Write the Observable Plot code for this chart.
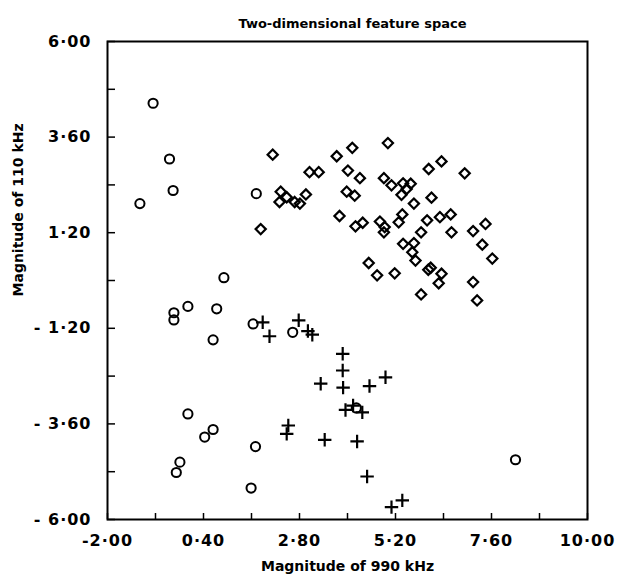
<!DOCTYPE html>
<html>
<head>
<meta charset="utf-8">
<script src="https://cdn.jsdelivr.net/npm/d3@7"></script>
<script src="https://cdn.jsdelivr.net/npm/@observablehq/plot@0.6"></script>
<style>
  html, body { margin: 0; padding: 0; background: #fff; }
  #chart { width: 617px; height: 581px; }
</style>
</head>
<body>
<div id="chart"></div>
<script>
const titleText = "Two-dimensional feature space";
const xTitle = "Magnitude of 990 kHz";
const yTitle = "Magnitude of 110 kHz";

const xMajor = [-2, 0.4, 2.8, 5.2, 7.6, 10];
const xTickLabels = ["-2·00", "0·40", "2·80", "5·20", "7·60", "10·00"];
const xMinor = [-0.8, 1.6, 4.0, 6.4, 8.8];
const yMajor = [-6, -3.6, -1.2, 1.2, 3.6, 6];
const yTickLabels = ["- 6·00", "- 3·60", "- 1·20", "1·20", "3·60", "6·00"];
const yMinor = [-4.8, -2.4, 0, 2.4, 4.8];

const circleX = [-0.86, -0.45, -0.36, -1.19, 1.72, 0.91, -0.34, -0.34, 0.01, 0.73, 0.64, 1.64, 2.63, 0.01, 0.43, 0.64, 1.70, -0.19, -0.28, 1.59, 8.20, 4.22];
const circleY = [4.45, 3.05, 2.26, 1.93, 2.18, 0.07, -0.81, -0.99, -0.65, -0.71, -1.49, -1.09, -1.30, -3.35, -3.93, -3.74, -4.17, -4.56, -4.82, -5.21, -4.50, -3.20];

const diamondX = [2.13, 1.83, 2.33, 2.30, 2.48, 2.68, 2.81, 2.96, 3.05, 3.28, 3.73, 3.80,
  4.12, 5.01, 4.01, 4.31, 4.91, 5.10, 5.39, 5.58, 5.48, 5.35, 6.03, 6.35, 6.93, 3.98, 4.18,
  5.66, 6.10, 4.20, 4.38, 4.81, 4.93, 4.91, 5.28, 5.37, 5.84, 5.99, 6.31, 6.58, 6.60, 7.14,
  7.45, 5.39, 5.66, 5.62, 5.70, 7.37, 7.62, 4.53, 4.74, 5.18, 6.02, 6.08, 6.35, 7.14, 6.28,
  5.84, 7.24];
const diamondY = [3.16, 1.29, 2.23, 1.97, 2.09, 1.97, 1.93, 2.16, 2.72, 2.72, 3.12, 1.62,
  3.33, 3.45, 2.76, 2.57, 2.57, 2.39, 2.44, 2.43, 2.30, 2.15, 2.80, 2.99, 2.69, 2.23, 2.13,
  1.93, 2.08, 1.36, 1.45, 1.48, 1.34, 1.21, 1.46, 1.66, 1.21, 1.51, 1.59, 1.66, 1.21, 1.24,
  1.42, 0.92, 0.94, 0.71, 0.50, 0.90, 0.55, 0.44, 0.13, 0.18, 0.27, 0.32, 0.17, -0.04, -0.07,
  -0.35, -0.50];

const plusX = [1.88, 2.05, 2.78, 3.01, 3.12, 3.33, 2.52, 2.48, 3.43, 3.88, 3.88, 3.89, 4.55, 4.95, 3.95, 4.14, 4.37, 4.24, 4.49, 5.10, 5.37];
const plusY = [-1.05, -1.40, -1.00, -1.27, -1.36, -2.59, -3.64, -3.85, -4.00, -1.84, -2.26, -2.69, -2.65, -2.43, -3.25, -3.14, -3.31, -4.04, -4.92, -5.69, -5.52];

const circles = circleX.map((x, i) => ({x, y: circleY[i]}));
const diamonds = diamondX.map((x, i) => ({x, y: diamondY[i]}));
const pluses = plusX.map((x, i) => ({x, y: plusY[i]}));

const chart = Plot.plot({
  width: 617,
  height: 581,
  marginLeft: 107,
  marginRight: 30,
  marginTop: 41,
  marginBottom: 62,
  x: {domain: [-2, 10]},
  y: {domain: [-6, 6]},
  style: {fontFamily: "DejaVu Sans", background: "#fff", color: "#000", overflow: "visible"},
  marks: [
    Plot.axisX(xMajor.concat(xMinor), {tickSize: -6, fill: "none", strokeWidth: 1.5, label: null}),
    Plot.axisY(yMajor.concat(yMinor), {tickSize: -8, fill: "none", strokeWidth: 1.5, label: null}),
    Plot.axisX(xMajor, {tickSize: 0, tickPadding: 15, tickFormat: d => xTickLabels[xMajor.indexOf(d)], fontSize: 16, fontWeight: "bold", label: null}),
    Plot.axisY(yMajor, {tickSize: 0, tickPadding: 16, tickFormat: d => yTickLabels[yMajor.indexOf(d)], fontSize: 16, fontWeight: "bold", label: null}),
    Plot.frame({stroke: "#000", strokeWidth: 2}),
    Plot.dot(circles, {x: "x", y: "y", symbol: "circle", r: 4.6, stroke: "#000", strokeWidth: 2, fill: "none"}),
    Plot.dot(diamonds, {x: "x", y: "y", symbol: "diamond2", r: 4.6, stroke: "#000", strokeWidth: 2.2, fill: "none"}),
    Plot.dot(pluses, {x: "x", y: "y", symbol: "plus", r: 4.4, stroke: "#000", strokeWidth: 2.2}),
    Plot.text([titleText], {text: d => d, frameAnchor: "top", dy: -23, dx: 5, fontSize: 13, fontWeight: "bold"}),
    Plot.text([xTitle], {text: d => d, frameAnchor: "bottom", dy: 51, fontSize: 14, fontWeight: "bold"}),
    Plot.text([yTitle], {text: d => d, frameAnchor: "left", dx: -89, dy: 16, rotate: -90, fontSize: 14, fontWeight: "bold"})
  ]
});

d3.select(chart).selectAll('g[aria-label="x-axis tick label"] text, g[aria-label="y-axis tick label"] text')
  .style("letter-spacing", "1px");

document.getElementById("chart").appendChild(chart);
</script>
</body>
</html>
